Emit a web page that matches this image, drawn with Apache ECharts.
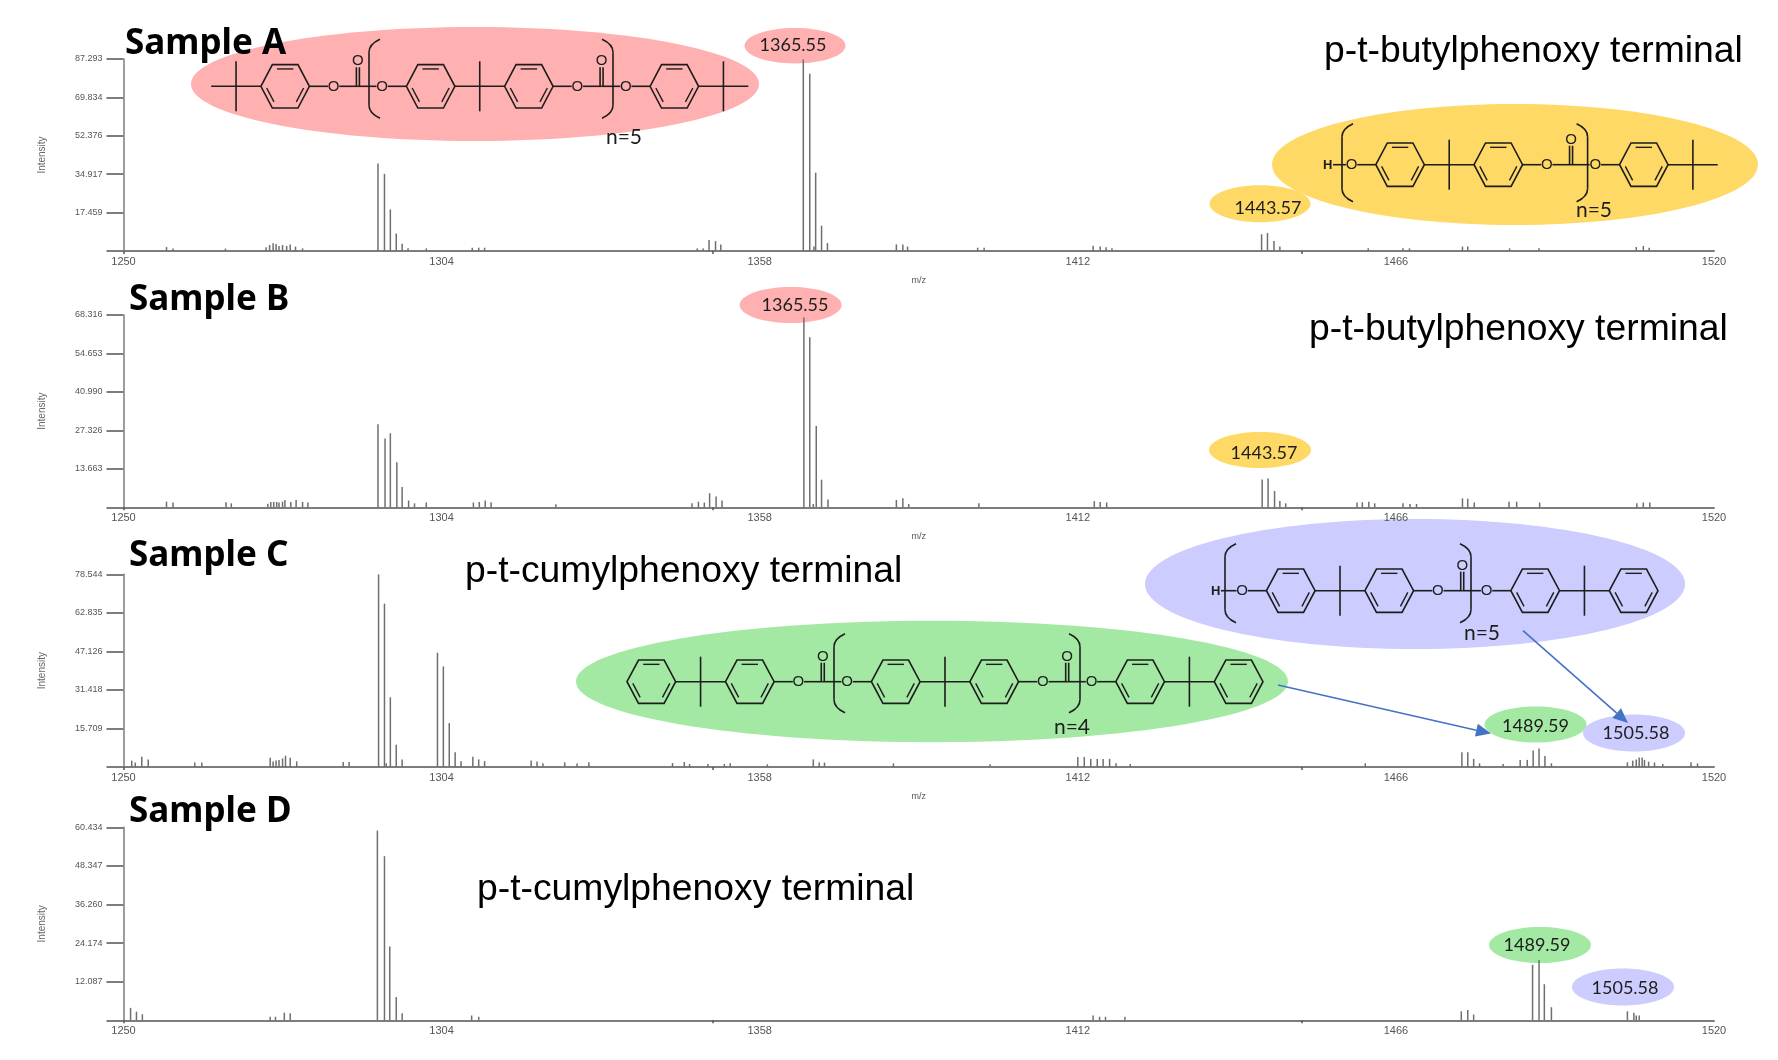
<!DOCTYPE html>
<html><head><meta charset="utf-8">
<style>html,body{margin:0;padding:0;background:#fff}#c{width:1778px;height:1060px}</style>
<script src="https://cdn.jsdelivr.net/npm/echarts@6/dist/echarts.min.js"></script>
</head><body><div id="c"></div>
<script>
// ---- data ----
const mzLabels = [1250,1304,1358,1412,1466,1520];
const mzTicks = [1250,1350,1450];

const ticksA = [17.459,34.917,52.376,69.834,87.293];
const ticksB = [13.663,27.326,40.990,54.653,68.316];
const ticksC = [15.709,31.418,47.126,62.835,78.544];
const ticksD = [12.087,24.174,36.260,48.347,60.434];

const mzA = [1257.3,1258.4,1267.3,1274.2,1274.8,1275.4,1275.9,1276.4,1277.0,1277.7,1278.3,1279.2,1280.4,1293.2,1294.3,1295.3,1296.3,1297.3,1298.3,1301.4,1309.2,1310.3,1311.3,1347.4,1348.4,1349.4,1350.5,1351.4,1365.4,1366.5,1367.2,1367.5,1368.5,1369.5,1381.2,1382.3,1383.1,1395.0,1396.1,1414.6,1415.8,1416.8,1417.8,1443.2,1444.2,1445.3,1446.3,1461.3,1467.2,1468.3,1477.3,1478.2,1485.3,1490.3,1506.8,1508.0,1509.0];
const intA = [1.8,1.1,1.1,1.7,2.7,3.5,3.2,2.3,2.7,2.3,3.0,2.0,1.2,39.8,35.1,18.9,7.9,3.3,1.2,1.2,1.5,1.5,1.5,1.2,1.1,5.0,4.5,3.0,87.1,80.6,2.0,35.6,11.5,3.6,3.0,3.0,2.0,1.5,1.5,2.4,2.0,1.7,1.2,7.6,8.2,4.5,2.0,1.2,1.2,1.2,2.0,2.0,1.2,1.2,1.8,2.3,1.5];

const mzB = [1257.3,1258.4,1267.4,1268.3,1274.5,1275.0,1275.5,1276.0,1276.4,1277.0,1277.4,1278.4,1279.3,1280.4,1281.3,1293.2,1294.4,1295.3,1296.4,1297.3,1298.4,1299.4,1301.4,1309.4,1310.4,1311.4,1312.4,1323.4,1346.5,1347.6,1348.6,1349.5,1350.6,1351.6,1365.5,1366.5,1367.1,1367.6,1368.5,1369.6,1381.2,1382.3,1383.3,1395.2,1414.8,1415.8,1416.9,1443.3,1444.3,1445.4,1446.3,1447.3,1459.4,1460.3,1461.4,1462.4,1467.2,1468.4,1469.5,1477.3,1478.2,1479.3,1485.2,1486.5,1490.4,1506.9,1508.0,1509.1];
const intB = [2.0,1.7,1.8,1.4,1.3,1.9,1.9,1.9,1.7,2.0,2.6,1.9,2.6,1.9,1.7,29.5,24.4,26.3,16.0,7.2,2.4,1.4,1.7,1.7,1.9,2.4,1.8,1.1,1.4,2.0,1.7,5.0,3.8,2.4,67.4,60.4,1.2,28.9,9.8,2.8,2.6,3.2,1.2,1.4,2.2,1.9,1.7,9.9,10.2,5.8,2.2,1.4,1.7,1.8,2.0,1.4,1.4,1.2,1.2,3.2,3.0,1.7,2.0,2.0,1.7,1.4,1.7,1.7];

const mzC = [1251.4,1252.0,1253.1,1254.2,1262.1,1263.3,1274.9,1275.4,1275.9,1276.4,1277.0,1277.5,1278.3,1279.4,1287.3,1288.3,1293.3,1294.3,1294.6,1295.3,1296.3,1297.3,1303.3,1304.3,1305.3,1306.3,1307.3,1309.3,1310.3,1311.3,1319.2,1320.2,1321.2,1324.9,1327.0,1329.0,1343.2,1345.2,1346.1,1349.2,1352.0,1353.0,1359.3,1367.1,1368.1,1369.0,1380.7,1397.1,1412.0,1413.1,1414.2,1415.3,1416.3,1417.4,1418.5,1420.9,1460.8,1477.2,1478.2,1479.2,1480.2,1484.2,1487.1,1488.3,1489.3,1490.3,1491.3,1492.4,1505.3,1506.2,1506.8,1507.3,1507.8,1508.2,1508.9,1509.9,1511.3,1516.1,1517.2];
const intC = [2.6,1.8,4.2,3.1,1.8,1.8,3.8,2.2,2.6,2.9,3.5,4.6,3.8,2.3,2.0,2.0,78.5,66.6,1.5,28.4,9.1,3.1,46.6,41.0,17.9,6.0,2.3,4.2,3.1,2.4,2.7,2.2,1.5,1.9,1.4,1.9,1.6,2.0,1.2,1.2,1.2,1.5,1.1,3.1,1.8,1.8,1.5,1.1,4.1,4.1,3.3,3.3,3.3,3.3,1.5,1.2,1.5,6.0,6.0,3.3,1.5,1.2,2.9,2.9,6.7,7.5,4.5,1.5,1.9,2.6,3.1,3.9,3.9,2.9,2.2,1.8,1.2,1.9,1.5];

const mzD = [1251.2,1252.2,1253.2,1274.9,1275.8,1277.3,1278.3,1293.1,1294.3,1295.2,1296.3,1297.3,1309.1,1310.3,1414.6,1415.7,1416.7,1420.0,1477.1,1478.2,1479.2,1489.2,1490.3,1491.2,1492.4,1505.3,1506.4,1506.8,1507.3];
const intD = [3.9,2.7,1.9,1.1,1.1,2.4,2.2,59.4,51.4,23.1,7.3,2.2,1.5,1.1,1.5,1.1,1.1,1.1,2.8,3.2,1.8,17.4,18.9,11.3,4.1,2.8,2.4,1.5,1.5];

const sampleNames = ['Sample A','Sample B','Sample C','Sample D'];
const terminalNames = ['p-t-butylphenoxy terminal','p-t-butylphenoxy terminal','p-t-cumylphenoxy terminal','p-t-cumylphenoxy terminal'];
const peakTexts = ['1365.55','1443.57','1489.59','1505.58'];

// ---- layout ----
const PLOT_L = 123.5, PLOT_W = 1590.5;
const panels = [
  {ticks:ticksA, mz:mzA, int:intA, top:59,    base:251,    name:true},
  {ticks:ticksB, mz:mzB, int:intB, top:315,   base:507.3,  name:true},
  {ticks:ticksC, mz:mzC, int:intC, top:574.3, base:767,    name:true},
  {ticks:ticksD, mz:mzD, int:intD, top:827.3, base:1020.3, name:false}
];
const GRAY = '#6f6f6f', AXIS = '#7d7d7d', INK = '#1d1d1d';
const PINK='#ffb0b0', YEL='#ffd966', GRN='#a3e9a3', LAV='#ccccff', ARROW='#4472c4';

const gfx = [];
const ellipse = (cx,cy,rx,ry,fill)=>gfx.push({type:'ellipse',z:-5,silent:true,shape:{cx,cy,rx,ry},style:{fill}});
const seg = (x1,y1,x2,y2,lw=1.6,col=INK)=>gfx.push({type:'line',z:5,silent:true,shape:{x1,y1,x2,y2},style:{stroke:col,lineWidth:lw}});
const txt = (x,y,text,font,fill=INK,align='center',z=6)=>gfx.push({type:'text',z,silent:true,x,y,style:{text,font,fill,align,verticalAlign:'middle'}});

// skeletal formula helpers
function hex(x0,y,w){
  const cx=x0+w/2,hw=w/2,fw=12.8,h=21.7;
  const p=[[cx-hw,y],[cx-fw,y-h],[cx+fw,y-h],[cx+hw,y],[cx+fw,y+h],[cx-fw,y+h]];
  gfx.push({type:'polygon',z:5,silent:true,shape:{points:p},style:{fill:'transparent',stroke:INK,lineWidth:1.6}});
  [[1,2],[3,4],[5,0]].forEach(([a,b])=>{
    const ax=p[a][0]+(cx-p[a][0])*.2, ay=p[a][1]+(y-p[a][1])*.2;
    const bx=p[b][0]+(cx-p[b][0])*.2, by=p[b][1]+(y-p[b][1])*.2;
    seg(ax+(bx-ax)*.1,ay+(by-ay)*.1,bx-(bx-ax)*.1,by-(by-ay)*.1,1.4);
  });
}
function chain(x,y,tokens,k=1,first=18.6){
  tokens.forEach(t=>{
    if(t==='hex'){hex(x,y,48.4*k);x+=48.4*k;}
    else if(t==='iso'){const w=49.6*k;seg(x,y,x+w,y);seg(x+w/2,y-25,x+w/2,y+25);x+=w;}
    else if(t==='b'){const w=18.6*k;seg(x,y,x+w,y);x+=w;}
    else if(t==='s'){seg(x,y,x+first,y);x+=first;}
    else if(t==='O'){const w=11.2*k;txt(x+w/2,y+.5,'O','15px "Liberation Sans"');x+=w;}
    else if(t==='C'){seg(x-1.5,y,x-1.5,y-19);seg(x+1.5,y,x+1.5,y-19);txt(x,y-25,'O','15px "Liberation Sans"');}
  });
}
function bracket(x,y,side,up,down){
  const d=side==='l'?1:-1, top=y-up, bot=y+down;
  seg(x,top+13,x,bot-13,1.6);
  gfx.push({type:'bezierCurve',z:5,silent:true,shape:{x1:x,y1:top+13,cpx1:x,cpy1:top+5,x2:x+d*11,y2:top},style:{stroke:INK,lineWidth:1.6,fill:'none'}});
  gfx.push({type:'bezierCurve',z:5,silent:true,shape:{x1:x,y1:bot-13,cpx1:x,cpy1:bot-5,x2:x+d*11,y2:bot},style:{stroke:INK,lineWidth:1.6,fill:'none'}});
}
function arrow(x1,y1,x2,y2){
  const a=Math.atan2(y2-y1,x2-x1),L=15,W=6.5,c=Math.cos(a),s=Math.sin(a);
  seg(x1,y1,x2-c*L,y2-s*L,1.6,ARROW);
  gfx.push({type:'polygon',z:5,silent:true,shape:{points:[[x2,y2],[x2-c*L-s*W,y2-s*L+c*W],[x2-c*L+s*W,y2-s*L-c*W]]},style:{fill:ARROW}});
}

// annotation ellipses
ellipse(475,84,284,57,PINK);
ellipse(795,45.7,50.5,17.7,PINK);
ellipse(1515,164.5,243,60.5,YEL);
ellipse(1260,203.7,50.5,18.5,YEL);
ellipse(790.6,305,51,18,PINK);
ellipse(1260,450,51,18,YEL);
ellipse(1415,584,270,65,LAV);
ellipse(932,681.5,356,60.7,GRN);
ellipse(1535.5,724.5,51,18,GRN);
ellipse(1634,733,51,18.5,LAV);
ellipse(1540,945,51,18,GRN);
ellipse(1623,987,51,18.5,LAV);

// structures
chain(211.2,86.3,['iso','hex','b','O','b','C','b','O','b','hex','iso','hex','b','O','b','C','b','O','b','hex','iso'],1.002);
bracket(369,86.3,'l',47,32); bracket(613,86.3,'r',47,32);
txt(1327.7,165,'H','bold 13px "Liberation Sans"');
chain(1333,164.7,['s','O','b','hex','iso','hex','b','O','b','C','b','O','b','hex','iso'],1.002,13);
bracket(1342,164.7,'l',41,37); bracket(1587.6,164.7,'r',41,37);
txt(1215.6,591,'H','bold 13px "Liberation Sans"');
chain(1221,590.7,['s','O','b','hex','iso','hex','b','O','b','C','b','O','b','hex','iso','hex'],1.005,15.5);
bracket(1225,590.7,'l',47,32); bracket(1471,590.7,'r',47,32);
chain(627,681.7,['hex','iso','hex','b','O','b','C','b','O','b','hex','iso','hex','b','O','b','C','b','O','b','hex','iso','hex'],1.005);
bracket(834,681.7,'l',48,31); bracket(1080,681.7,'r',48,31);

arrow(1278,685,1491,733.5);
arrow(1523,630.7,1628,723);

// texts
const titleFont='bold 35px "Noto Sans"';
txt(125,44,sampleNames[0],titleFont,'#000','left');
txt(129,300,sampleNames[1],titleFont,'#000','left');
txt(129,556,sampleNames[2],titleFont,'#000','left');
txt(129,812,sampleNames[3],titleFont,'#000','left');
const termFont='37.3px "Liberation Sans"';
txt(1324,52,terminalNames[0],termFont,'#000','left');
txt(1309,330,terminalNames[1],termFont,'#000','left');
txt(465,572,terminalNames[2],termFont,'#000','left');
txt(477,890,terminalNames[3],termFont,'#000','left');
const nFont='21px Lato';
txt(624,137,'n=5',nFont); txt(1594,210,'n=5',nFont); txt(1482,633,'n=5',nFont); txt(1072,727,'n=4',nFont);
const pkFont='18px Lato';
txt(793,45,peakTexts[0],pkFont); txt(1268,208,peakTexts[1],pkFont);
txt(795,305.5,peakTexts[0],pkFont); txt(1264,453,peakTexts[1],pkFont);
txt(1535.5,726,peakTexts[2],pkFont); txt(1636,733.5,peakTexts[3],pkFont);
txt(1537,945.5,peakTexts[2],pkFont); txt(1625,988.5,peakTexts[3],pkFont);

const option = {
  animation:false, backgroundColor:'#fff',
  graphic:{elements:gfx},
  grid:panels.map(p=>({left:PLOT_L,width:PLOT_W,top:p.top,height:p.base-p.top,containLabel:false})),
  xAxis:panels.map((p,i)=>({
    type:'value',gridIndex:i,min:1250,max:1520,
    name:p.name?'m/z':'',nameLocation:'middle',nameGap:25,nameTextStyle:{fontSize:9,color:'#555',fontFamily:'Liberation Sans'},
    splitLine:{show:false},
    axisLine:{show:true,onZero:false,lineStyle:{color:AXIS,width:2}},
    axisTick:{show:true,length:3,customValues:mzTicks,lineStyle:{color:'#555',width:1.5}},
    axisLabel:{show:true,margin:5,fontSize:11,color:'#555',fontFamily:'Liberation Sans',customValues:mzLabels,hideOverlap:false,formatter:v=>String(v)}
  })),
  yAxis:panels.map((p,i)=>({
    type:'value',gridIndex:i,min:0,max:p.ticks[4],
    name:'Intensity',nameLocation:'middle',nameRotate:90,nameGap:76,nameTextStyle:{fontSize:10,color:'#666',fontFamily:'Liberation Sans'},
    splitLine:{show:false},
    axisLine:{show:true,onZero:false,lineStyle:{color:AXIS,width:1.5}},
    axisTick:{show:true,length:17,customValues:[0].concat(p.ticks),lineStyle:{color:AXIS,width:2}},
    axisLabel:{show:true,margin:21,fontSize:9,color:'#555',fontFamily:'Liberation Sans',customValues:p.ticks,
      formatter:v=>v.toFixed(3),padding:[0,0,5,0],hideOverlap:false}
  })),
  series:panels.map((p,i)=>({
    type:'bar',xAxisIndex:i,yAxisIndex:i,barWidth:1.5,clip:false,silent:true,z:3,
    itemStyle:{color:GRAY},
    data:p.mz.map((m,j)=>[m,p.int[j]])
  }))
};
echarts.init(document.getElementById('c'),null,{renderer:'canvas'}).setOption(option);
</script></body></html>
